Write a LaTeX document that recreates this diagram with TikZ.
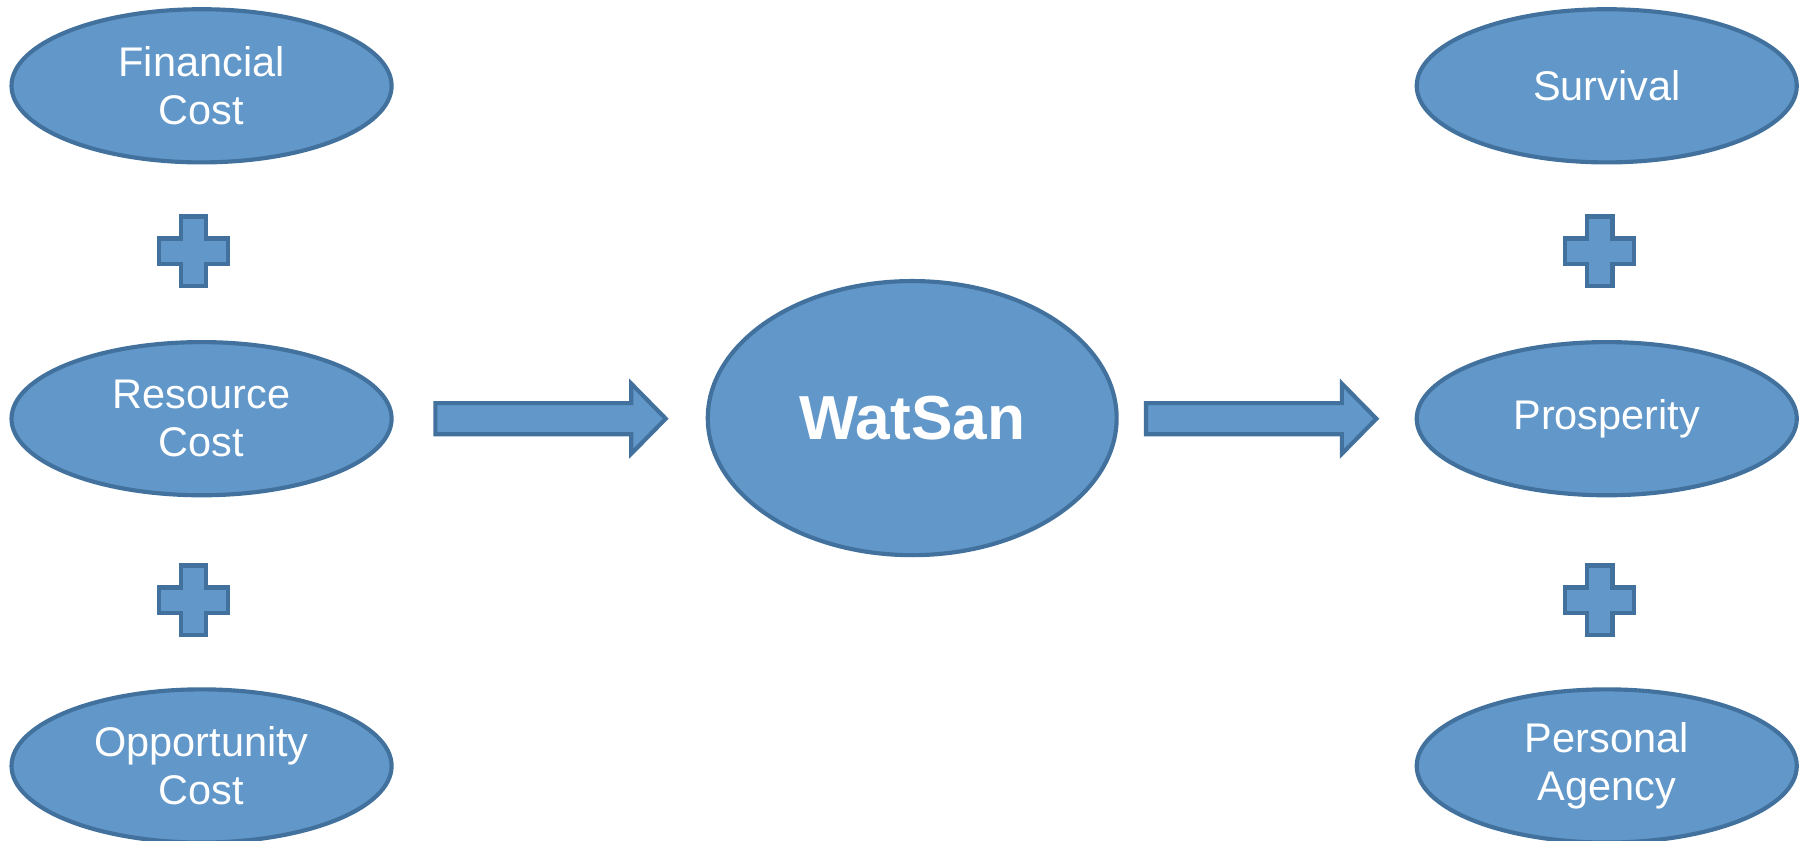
\documentclass[tikz,border=0pt]{standalone}
\usepackage{fontspec}
\setmainfont{Liberation Sans}
\usetikzlibrary{shapes.geometric}
\definecolor{bfill}{HTML}{6197C9}
\definecolor{bline}{HTML}{41719C}
\tikzset{
  oval/.style={ellipse, draw=bline, fill=bfill, line width=1.8pt, minimum width=165pt, minimum height=66.5pt, inner sep=0pt, text=white, font=\fontsize{18}{21}\selectfont, align=center},
  bigoval/.style={ellipse, draw=bline, fill=bfill, line width=1.8pt, minimum width=177.5pt, minimum height=119pt, inner sep=0pt, text=white, font=\fontsize{27}{32}\selectfont\bfseries},
  blk/.style={draw=bline, fill=bfill, line width=1.8pt, line join=miter}
}
\begin{document}
\begin{tikzpicture}[x=0.5pt,y=-0.5pt]
\useasboundingbox (0,0) rectangle (1568,730);
% left column
\node[oval] (fin) at (175,74.5) {Financial\\Cost};
\node[oval] (res) at (175,363.5) {Resource\\Cost};
\node[oval] (opp) at (175,665) {Opportunity\\Cost};
% right column
\node[oval] (sur) at (1395,74.5) {Survival};
\node[oval] (pro) at (1395,363.5) {Prosperity};
\node[oval] (per) at (1395,665) {Personal\\Agency};
% centre
\node[bigoval] (wat) at (792,363) {WatSan};
% plus signs
\foreach \cx/\cy in {168/218, 168/521, 1389/218, 1389/521}{
  \draw[blk] (\cx-11,\cy-30) -- (\cx+11,\cy-30) -- (\cx+11,\cy-11) -- (\cx+30,\cy-11) -- (\cx+30,\cy+11) -- (\cx+11,\cy+11) -- (\cx+11,\cy+30) -- (\cx-11,\cy+30) -- (\cx-11,\cy+11) -- (\cx-30,\cy+11) -- (\cx-30,\cy-11) -- (\cx-11,\cy-11) -- cycle;
}
% block arrows
\foreach \ax in {378, 995}{
  \draw[blk] (\ax,350) -- (\ax+170,350) -- (\ax+170,333) -- (\ax+200,363.5) -- (\ax+170,394) -- (\ax+170,377) -- (\ax,377) -- cycle;
}
\end{tikzpicture}
\end{document}
